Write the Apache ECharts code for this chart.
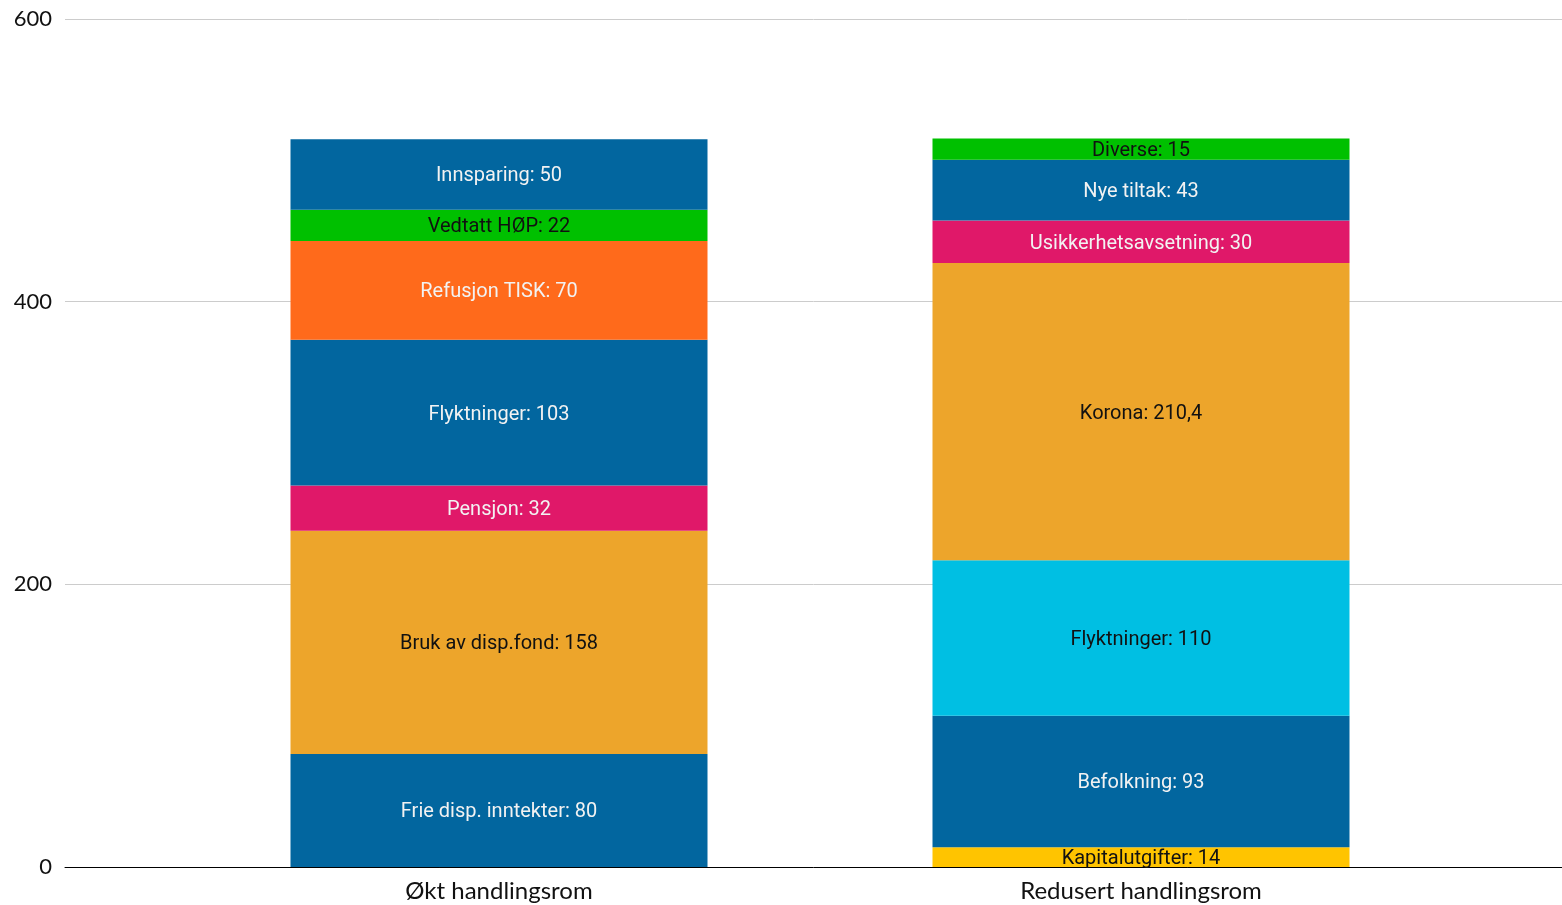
<!DOCTYPE html>
<html>
<head>
<meta charset="utf-8">
<script src="https://cdn.jsdelivr.net/npm/echarts@6/dist/echarts.min.js"></script>
<style>html,body{margin:0;padding:0;background:#fff}#c{width:1562px;height:905px}</style>
</head>
<body>
<div id="c"></div>
<script>
const categories = ['Økt handlingsrom', 'Redusert handlingsrom'];
const leftNames = ['Frie disp. inntekter', 'Bruk av disp.fond', 'Pensjon', 'Flyktninger', 'Refusjon TISK', 'Vedtatt HØP', 'Innsparing'];
const leftValues = [80, 158, 32, 103, 70, 22, 50];
const leftLabels = ['80', '158', '32', '103', '70', '22', '50'];
const rightNames = ['Kapitalutgifter', 'Befolkning', 'Flyktninger', 'Korona', 'Usikkerhetsavsetning', 'Nye tiltak', 'Diverse'];
const rightValues = [14, 93, 110, 210.4, 30, 43, 15];
const rightLabels = ['14', '93', '110', '210,4', '30', '43', '15'];
const yTicks = [0, 200, 400, 600];

const BLUE = '#02669F', GREEN = '#00C000', ORANGE = '#FF6A1B', PINK = '#E01869',
      GOLD = '#EDA52B', CYAN = '#00BFE3', YELLOW = '#FFC400';
const leftColors = [BLUE, GOLD, PINK, BLUE, ORANGE, GREEN, BLUE];
const rightColors = [YELLOW, BLUE, CYAN, GOLD, PINK, BLUE, GREEN];
const darkText = c => (c === GREEN || c === GOLD || c === CYAN || c === YELLOW) ? '#111' : '#F2F2F2';

const series = leftValues.map((_, i) => ({
  type: 'bar',
  stack: 'a',
  barWidth: 417,
  xAxisIndex: 1, yAxisIndex: 1,
  data: [
    { value: leftValues[i], name: leftNames[i] + ': ' + leftLabels[i],
      itemStyle: { color: leftColors[i] }, label: { color: darkText(leftColors[i]) } },
    { value: rightValues[i], name: rightNames[i] + ': ' + rightLabels[i],
      itemStyle: { color: rightColors[i] }, label: { color: darkText(rightColors[i]) } }
  ],
  label: {
    show: true, position: 'inside', formatter: p => p.data.name,
    fontFamily: 'Roboto', fontSize: 20, offset: [0, 2]
  },
  emphasis: { disabled: true }
}));

const yMin = yTicks[0], yMax = yTicks[yTicks.length - 1];
const chart = echarts.init(document.getElementById('c'), null, { renderer: 'canvas' });
chart.setOption({
  animation: false,
  grid: [
    { left: 65, right: 0, top: 19, bottom: 38 },
    { left: 178, right: 100, top: 19, bottom: 38 }
  ],
  xAxis: [
    { gridIndex: 0, type: 'category', data: [''],
      axisLine: { lineStyle: { color: '#000', width: 1 } },
      axisTick: { show: false }, axisLabel: { show: false } },
    { gridIndex: 1, type: 'category', data: categories,
      axisLine: { show: false }, axisTick: { show: false },
      axisLabel: { color: '#111', fontSize: 24, fontFamily: 'Lato', margin: 12 } }
  ],
  yAxis: [
    { gridIndex: 0, type: 'value', min: yMin, max: yMax, interval: 200,
      axisLine: { show: false }, axisTick: { show: false },
      splitLine: { lineStyle: { color: '#CCCCCC', width: 1 } },
      axisLabel: { color: '#111', fontSize: 22, fontFamily: 'Lato', margin: 13 } },
    { gridIndex: 1, type: 'value', min: yMin, max: yMax, interval: 200, show: false }
  ],
  series
});
</script>
</body>
</html>
